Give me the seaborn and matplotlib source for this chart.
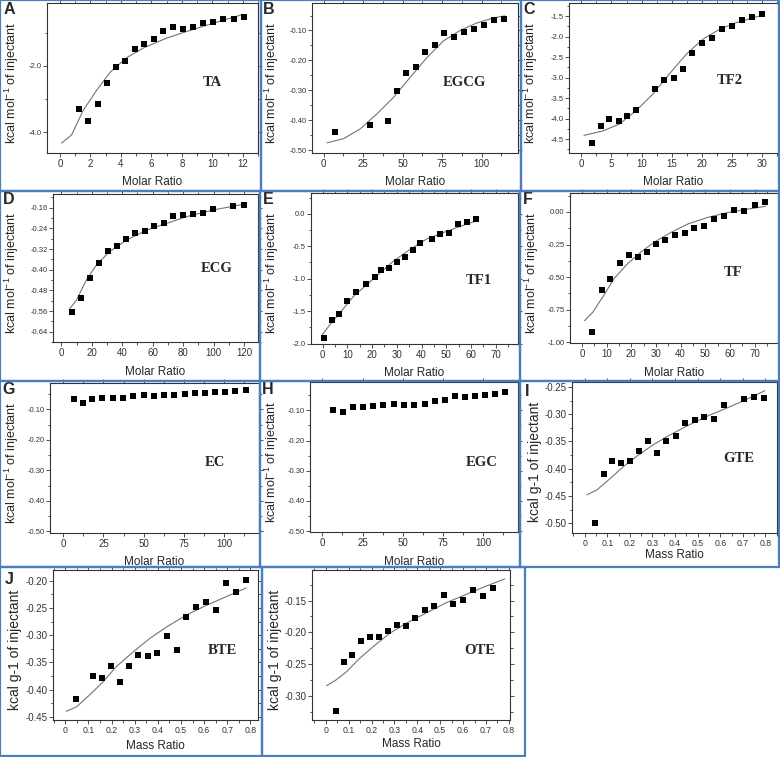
import matplotlib.pyplot as plt
import matplotlib.ticker as mticker
from matplotlib.patches import Rectangle
import seaborn as sns

# ---- data ----
ta_x = [1.27, 1.86, 2.47, 3.07, 3.68, 4.29, 4.90, 5.52, 6.15, 6.78, 7.42, 8.05, 8.71, 9.37, 10.05, 10.73, 11.41, 12.09]
ta_y = [-3.31, -3.67, -3.14, -2.53, -2.02, -1.86, -1.49, -1.35, -1.19, -0.95, -0.83, -0.89, -0.81, -0.71, -0.66, -0.57, -0.59, -0.51]
ta_fit_x = [0.11, 0.77, 1.53, 2.40, 3.28, 4.38, 5.47, 7.00, 8.32, 10.07, 12.04]
ta_fit_y = [-4.33, -4.08, -3.34, -2.74, -2.20, -1.75, -1.46, -1.16, -0.96, -0.71, -0.44]

egcg_x = [7.2, 29.5, 40.8, 46.5, 52.4, 58.3, 64.2, 70.3, 76.4, 82.5, 88.8, 95.2, 101.5, 107.8, 114.3]
egcg_y = [-0.441, -0.415, -0.404, -0.304, -0.241, -0.223, -0.173, -0.148, -0.108, -0.123, -0.106, -0.094, -0.082, -0.065, -0.062]
egcg_fit_x = [2.1, 12.6, 23.2, 33.7, 44.2, 54.7, 65.3, 75.8, 86.3, 96.8, 107.4, 114.7]
egcg_fit_y = [-0.476, -0.462, -0.429, -0.379, -0.324, -0.257, -0.191, -0.135, -0.100, -0.075, -0.058, -0.051]

tf2_x = [1.77, 3.27, 4.65, 6.20, 7.64, 9.08, 12.23, 13.73, 15.33, 16.88, 18.43, 20.03, 21.69, 23.30, 24.96, 26.62, 28.33, 29.99]
tf2_y = [-4.59, -4.19, -4.00, -4.07, -3.93, -3.78, -3.28, -3.05, -3.00, -2.80, -2.40, -2.15, -2.03, -1.82, -1.73, -1.60, -1.53, -1.44]
tf2_fit_x = [0.44, 3.6, 6.36, 9.13, 11.9, 14.67, 17.43, 20.2, 22.97, 25.7, 28.5, 30.0]
tf2_fit_y = [-4.41, -4.30, -4.13, -3.80, -3.40, -2.90, -2.43, -2.06, -1.82, -1.66, -1.54, -1.48]

ecg_x = [7.0, 12.9, 18.6, 24.5, 30.4, 36.3, 42.5, 48.6, 54.7, 60.9, 67.2, 73.6, 79.9, 86.5, 92.8, 99.4, 113.0, 119.8]
ecg_y = [-0.565, -0.509, -0.433, -0.376, -0.328, -0.310, -0.283, -0.257, -0.251, -0.230, -0.220, -0.192, -0.189, -0.183, -0.180, -0.164, -0.154, -0.148]
ecg_fit_x = [5.5, 9.9, 16.4, 23.0, 31.7, 42.7, 55.8, 69.0, 82.1, 99.6, 120.4]
ecg_fit_y = [-0.551, -0.518, -0.440, -0.382, -0.330, -0.286, -0.247, -0.221, -0.195, -0.169, -0.146]

tf1_x = [0.4, 3.6, 6.6, 9.7, 13.4, 17.6, 21.0, 23.5, 26.9, 30.0, 33.2, 36.5, 39.5, 44.1, 47.6, 51.0, 54.6, 58.3, 62.2]
tf1_y = [-1.92, -1.64, -1.54, -1.35, -1.21, -1.08, -0.98, -0.87, -0.83, -0.74, -0.67, -0.55, -0.45, -0.39, -0.31, -0.30, -0.16, -0.12, -0.08]
tf1_fit_x = [-0.5, 3.1, 7.1, 12.5, 17.9, 23.2, 28.6, 35.3, 42.0, 50.1, 58.2, 62.2]
tf1_fit_y = [-1.88, -1.70, -1.52, -1.27, -1.09, -0.91, -0.73, -0.55, -0.39, -0.27, -0.16, -0.11]

tf_x = [4.1, 7.9, 11.5, 15.2, 18.9, 22.6, 26.3, 30.0, 33.8, 37.7, 41.6, 45.6, 49.6, 53.6, 57.7, 61.8, 65.9, 70.0, 74.1]
tf_y = [-0.918, -0.600, -0.513, -0.395, -0.332, -0.344, -0.306, -0.247, -0.212, -0.179, -0.161, -0.120, -0.105, -0.054, -0.031, 0.018, 0.010, 0.054, 0.079]
tf_fit_x = [1.0, 4.4, 8.8, 12.9, 18.4, 23.8, 29.3, 36.2, 43.0, 51.2, 59.5, 67.7, 74.5]
tf_fit_y = [-0.834, -0.768, -0.640, -0.513, -0.398, -0.309, -0.232, -0.156, -0.092, -0.041, -0.003, 0.023, 0.043]

ec_x = [6.4, 12.0, 18.1, 24.3, 30.7, 37.1, 43.5, 49.9, 56.3, 62.7, 69.1, 75.5, 81.9, 88.0, 94.4, 100.6, 107.0, 113.4]
ec_y = [-0.068, -0.081, -0.067, -0.064, -0.064, -0.063, -0.057, -0.054, -0.056, -0.054, -0.052, -0.051, -0.047, -0.047, -0.045, -0.044, -0.039, -0.036]

egc_x = [6.8, 12.6, 18.8, 25.0, 31.5, 37.9, 44.3, 50.7, 57.1, 63.6, 69.8, 76.2, 82.6, 88.8, 95.0, 101.2, 107.5, 113.7]
egc_y = [-0.100, -0.107, -0.090, -0.090, -0.086, -0.082, -0.079, -0.083, -0.082, -0.078, -0.069, -0.064, -0.054, -0.055, -0.052, -0.050, -0.045, -0.038]

gte_x = [0.047, 0.084, 0.122, 0.162, 0.201, 0.241, 0.281, 0.322, 0.362, 0.403, 0.446, 0.487, 0.529, 0.572, 0.616, 0.703, 0.749, 0.794]
gte_y = [-0.499, -0.410, -0.386, -0.389, -0.386, -0.367, -0.349, -0.372, -0.350, -0.340, -0.316, -0.310, -0.306, -0.309, -0.284, -0.273, -0.269, -0.271]
gte_fit_x = [0.01, 0.054, 0.113, 0.172, 0.231, 0.304, 0.378, 0.451, 0.54, 0.628, 0.716, 0.797]
gte_fit_y = [-0.448, -0.439, -0.418, -0.396, -0.377, -0.356, -0.338, -0.322, -0.304, -0.289, -0.273, -0.257]

bte_x = [0.045, 0.120, 0.158, 0.197, 0.236, 0.275, 0.316, 0.357, 0.398, 0.440, 0.481, 0.523, 0.566, 0.608, 0.650, 0.693, 0.738, 0.782]
bte_y = [-0.417, -0.375, -0.379, -0.356, -0.386, -0.356, -0.337, -0.338, -0.332, -0.301, -0.328, -0.266, -0.248, -0.239, -0.253, -0.204, -0.221, -0.199]
bte_fit_x = [0.004, 0.048, 0.105, 0.163, 0.22, 0.293, 0.365, 0.437, 0.523, 0.61, 0.696, 0.782]
bte_fit_y = [-0.440, -0.432, -0.410, -0.386, -0.358, -0.331, -0.306, -0.285, -0.263, -0.245, -0.229, -0.213]

ote_x = [0.043, 0.078, 0.115, 0.154, 0.193, 0.232, 0.271, 0.311, 0.350, 0.390, 0.432, 0.474, 0.516, 0.556, 0.598, 0.643, 0.686, 0.729]
ote_y = [-0.324, -0.246, -0.236, -0.214, -0.207, -0.207, -0.198, -0.188, -0.190, -0.177, -0.165, -0.158, -0.141, -0.156, -0.149, -0.134, -0.143, -0.131]
ote_fit_x = [0.004, 0.045, 0.091, 0.148, 0.206, 0.278, 0.35, 0.437, 0.523, 0.61, 0.696, 0.782]
ote_fit_y = [-0.284, -0.275, -0.262, -0.241, -0.223, -0.202, -0.186, -0.170, -0.154, -0.141, -0.128, -0.116]

MOL = r"kcal mol$^{-1}$ of injectant"
GRAM = "kcal g-1 of injectant"

# ---- layout (pixel coords of the 780x757 picture) ----
W, H = 780, 757
sns.set_style("ticks")
plt.rcParams['font.family'] = ['Liberation Sans', 'DejaVu Sans']
plt.rcParams['mathtext.default'] = 'regular'

fig = plt.figure(figsize=(W / 100, H / 100), dpi=100)

panels = [
    dict(name='TA', letter='A', x=ta_x, y=ta_y, fx=ta_fit_x, fy=ta_fit_y, box=(47, 258, 3, 153),
         xlim=(-0.85, 13), ylim=(-4.63, -0.1), xt=(2, 1), yt=(2, 1), yfmt='%.1f',
         name_at=(212, 82), let_at=(9, 10), xl_top=176, yl_right=21, mass=False),
    dict(name='EGCG', letter='B', x=egcg_x, y=egcg_y, fx=egcg_fit_x, fy=egcg_fit_y, box=(312, 518, 3, 153),
         xlim=(-7.4, 123), ylim=(-0.51, -0.008), xt=(25, 12.5), yt=(0.1, 0.05), yfmt='%.2f',
         name_at=(464, 82), let_at=(269, 10), xl_top=176, yl_right=281, mass=False),
    dict(name='TF2', letter='C', x=tf2_x, y=tf2_y, fx=tf2_fit_x, fy=tf2_fit_y, box=(569, 778, 3, 153),
         xlim=(-2.05, 32.65), ylim=(-4.84, -1.18), xt=(5, 2.5), yt=(0.5, 0.25), yfmt='%.1f',
         name_at=(730, 81), let_at=(529, 10), xl_top=176, yl_right=540, mass=False),
    dict(name='ECG', letter='D', x=ecg_x, y=ecg_y, fx=ecg_fit_x, fy=ecg_fit_y, box=(53, 258, 194, 342),
         xlim=(-5.5, 129.2), ylim=(-0.68, -0.107), xt=(20, 10), yt=(0.08, 0.04), yfmt='%.2f',
         name_at=(217, 269), let_at=(9, 200), xl_top=366, yl_right=21, mass=False),
    dict(name='TF1', letter='E', x=tf1_x, y=tf1_y, fx=tf1_fit_x, fy=tf1_fit_y, box=(311, 518, 193, 344),
         xlim=(-4.7, 79), ylim=(-2.005, 0.32), xt=(10, 5), yt=(0.5, 0.25), yfmt='%.1f',
         name_at=(479, 280), let_at=(268, 200), xl_top=367, yl_right=281, mass=False),
    dict(name='TF', letter='F', x=tf_x, y=tf_y, fx=tf_fit_x, fy=tf_fit_y, box=(570, 778, 193, 343),
         xlim=(-4.9, 79.5), ylim=(-1.005, 0.145), xt=(10, 5), yt=(0.25, 0.125), yfmt='%.2f',
         name_at=(733, 272), let_at=(528, 200), xl_top=367, yl_right=541, mass=False),
    dict(name='EC', letter='G', x=ec_x, y=ec_y, fx=None, fy=None, box=(50, 259, 383, 533),
         xlim=(-8.2, 121.6), ylim=(-0.505, -0.014), xt=(25, 12.5), yt=(0.1, 0.05), yfmt='%.2f',
         name_at=(215, 462), let_at=(9, 390), xl_top=556, yl_right=21, mass=False),
    dict(name='EGC', letter='H', x=egc_x, y=egc_y, fx=None, fy=None, box=(310, 518, 382, 532),
         xlim=(-7.7, 121.7), ylim=(-0.503, -0.006), xt=(25, 12.5), yt=(0.1, 0.05), yfmt='%.2f',
         name_at=(482, 463), let_at=(268, 390), xl_top=556, yl_right=281, mass=False),
    dict(name='GTE', letter='I', x=gte_x, y=gte_y, fx=gte_fit_x, fy=gte_fit_y, box=(572, 777, 382, 533),
         xlim=(-0.056, 0.851), ylim=(-0.518, -0.241), xt=(0.1, 0.05), yt=(0.05, 0.025), yfmt='%.2f',
         name_at=(739, 459), let_at=(527, 391), xl_top=549, yl_right=542, mass=True),
    dict(name='BTE', letter='J', x=bte_x, y=bte_y, fx=bte_fit_x, fy=bte_fit_y, box=(53, 258, 570, 720),
         xlim=(-0.053, 0.833), ylim=(-0.456, -0.18), xt=(0.1, 0.05), yt=(0.05, 0.025), yfmt='%.2f',
         name_at=(222, 650), let_at=(9, 579), xl_top=740, yl_right=22, mass=True),
    dict(name='OTE', letter='', x=ote_x, y=ote_y, fx=ote_fit_x, fy=ote_fit_y, box=(312, 510, 570, 720),
         xlim=(-0.06, 0.805), ylim=(-0.338, -0.102), xt=(0.1, 0.05), yt=(0.05, 0.025), yfmt='%.2f',
         name_at=(480, 650), let_at=(270, 580), xl_top=738, yl_right=282, mass=True),
]

frames = [(0, 0, 261, 191), (261, 0, 521, 191), (521, 0, 779, 191),
          (0, 191, 260, 381), (260, 191, 520, 381), (520, 191, 779, 381),
          (0, 381, 260, 567), (260, 381, 520, 567), (520, 381, 779, 567),
          (0, 567, 262, 756), (262, 567, 525, 756)]


def mass_fmt(v, pos):
    return "0" if abs(v) < 1e-9 else f"{v:.1f}"


for p in panels:
    l, r, t, b = p['box']
    ax = fig.add_axes([l / W, 1 - b / H, (r - l) / W, (b - t) / H])
    sns.scatterplot(x=p['x'], y=p['y'], ax=ax, marker='s', color='black', s=20,
                    linewidth=0, zorder=3)
    if p['fx'] is not None:
        sns.lineplot(x=p['fx'], y=p['fy'], ax=ax, color='0.45', lw=0.8,
                     sort=False, estimator=None, zorder=2)
    ax.set_xlim(*p['xlim'])
    ax.set_ylim(*p['ylim'])
    ax.xaxis.set_major_locator(mticker.MultipleLocator(p['xt'][0]))
    ax.xaxis.set_minor_locator(mticker.MultipleLocator(p['xt'][1]))
    ax.yaxis.set_major_locator(mticker.MultipleLocator(p['yt'][0]))
    ax.yaxis.set_minor_locator(mticker.MultipleLocator(p['yt'][1]))
    ax.yaxis.set_major_formatter(mticker.FormatStrFormatter(p['yfmt']))
    if p['mass']:
        ax.xaxis.set_major_formatter(mticker.FuncFormatter(mass_fmt))
        xts, yts = 6.3, 7
    else:
        ax.xaxis.set_major_formatter(mticker.FormatStrFormatter('%d'))
        xts, yts = 7, 5.5
    ax.tick_params(which='both', direction='out', top=True, right=True,
                   color='#333333', width=0.6)
    ax.tick_params(which='major', length=3)
    ax.tick_params(which='minor', length=1.8)
    ax.tick_params(axis='x', labelsize=xts, pad=1, labelcolor='#333333')
    ax.tick_params(axis='y', labelsize=yts, pad=1, labelcolor='#333333')
    for sp in ax.spines.values():
        sp.set_visible(True)
        sp.set_color('#333333')
        sp.set_linewidth(0.8)

    ax.set_xlabel('Mass Ratio' if p['mass'] else 'Molar Ratio', fontsize=8.5)
    ax.set_ylabel(GRAM if p['mass'] else MOL, fontsize=10 if p['mass'] else 9)
    ax.xaxis.set_label_coords(0.5, (b - p['xl_top']) / (b - t))
    ax.yaxis.set_label_coords((p['yl_right'] - l) / (r - l), 0.47)

    fig.text(p['name_at'][0] / W, 1 - p['name_at'][1] / H, p['name'],
             family=['Liberation Serif', 'DejaVu Serif'], fontweight='bold',
             fontsize=10.5, ha='center', va='center')
    if p['letter']:
        fig.text(p['let_at'][0] / W, 1 - p['let_at'][1] / H, p['letter'],
                 fontweight='bold', fontsize=11.5, ha='center', va='center')

for x0, y0, x1, y1 in frames:
    fig.patches.append(Rectangle((x0 / W, 1 - y1 / H), (x1 - x0) / W, (y1 - y0) / H,
                                 transform=fig.transFigure, fill=False,
                                 edgecolor='#4a7ebf', lw=1.6, zorder=10))

fig.savefig('out.png', dpi=100, facecolor='white')
